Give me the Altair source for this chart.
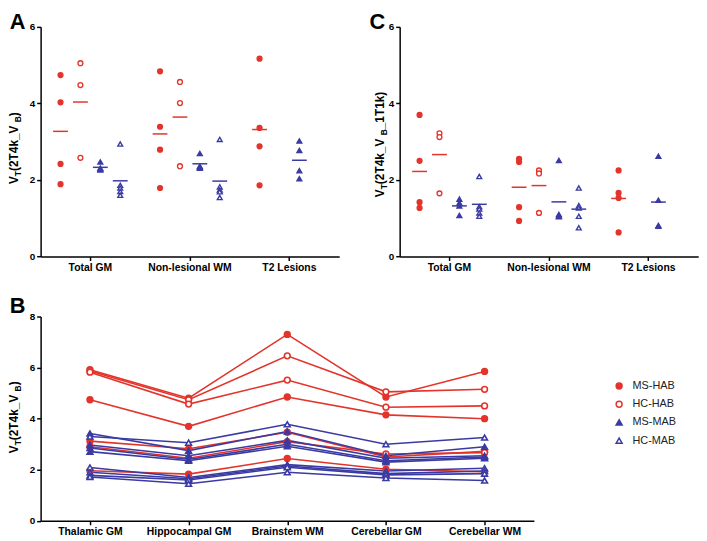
import altair as alt
import pandas as pd

FONT = "Liberation Sans"
RED = "#e3342b"
BLUE = "#3a3aa3"

groups = ["MS-HAB", "HC-HAB", "MS-MAB", "HC-MAB"]
regions_ac = ["Total GM", "Non-lesional WM", "T2 Lesions"]
b_regions = ["Thalamic GM", "Hippocampal GM", "Brainstem WM", "Cerebellar GM", "Cerebellar WM"]

# Panel A values  V_T (2T4k_V_B)
a_total_ms_hab = [4.74, 4.03, 2.42, 1.89]
a_total_hc_hab = [5.05, 4.48, 2.58]
a_total_ms_mab = [2.47, 2.31, 2.28, 2.26]
a_total_hc_mab = [2.94, 1.86, 1.79, 1.70, 1.60]
a_nlwm_ms_hab = [4.84, 3.39, 2.79, 1.79]
a_nlwm_hc_hab = [4.56, 4.01, 2.36]
a_nlwm_ms_mab = [2.69, 2.36, 2.33, 2.31]
a_nlwm_hc_mab = [3.06, 1.82, 1.74, 1.69, 1.54]
a_t2_ms_hab = [5.17, 3.36, 2.88, 1.86]
a_t2_ms_mab = [3.02, 2.77, 2.24, 2.03]

# Panel C values  V_T (2T4k_V_B_1T1k)
c_total_ms_hab = [3.70, 2.50, 1.42, 1.27]
c_total_hc_hab = [3.22, 3.12, 1.65]
c_total_ms_mab = [1.50, 1.40, 1.32, 1.07]
c_total_hc_mab = [2.09, 1.30, 1.24, 1.14, 1.05]
c_nlwm_ms_hab = [2.55, 2.47, 1.29, 0.93]
c_nlwm_hc_hab = [2.25, 2.17, 1.14]
c_nlwm_ms_mab = [2.51, 1.10, 1.06, 1.04]
c_nlwm_hc_mab = [1.79, 1.33, 1.27, 1.05, 0.75]
c_t2_ms_hab = [2.25, 1.66, 1.53, 0.63]
c_t2_ms_mab = [2.62, 1.47, 0.81, 0.79]

# Panel B: one list per subject, values across b_regions
b_ms_hab = [
    [5.92, 4.80, 7.30, 4.85, 5.85],
    [4.74, 3.70, 4.85, 4.15, 4.00],
    [3.12, 2.82, 3.47, 2.50, 2.72],
    [1.96, 1.83, 2.44, 2.02, 1.92],
]
b_hc_hab = [
    [5.87, 4.74, 6.46, 5.05, 5.15],
    [5.82, 4.57, 5.51, 4.45, 4.50],
    [2.90, 2.45, 3.10, 2.62, 2.67],
]
b_ms_mab = [
    [3.42, 2.75, 3.50, 2.55, 2.90],
    [2.97, 2.55, 3.15, 2.45, 2.55],
    [2.85, 2.40, 3.00, 2.35, 2.50],
    [2.71, 2.35, 2.92, 2.30, 2.45],
]
b_hc_mab = [
    [3.30, 3.06, 3.78, 3.00, 3.26],
    [2.09, 1.70, 2.20, 1.95, 2.06],
    [1.90, 1.65, 2.15, 1.85, 1.95],
    [1.78, 1.60, 2.10, 1.80, 1.85],
    [1.72, 1.45, 1.90, 1.68, 1.58],
]


def dot_rows(table):
    rows = []
    for (region, group), vals in table.items():
        for v in vals:
            rows.append({"region": region, "group": group, "value": v})
    return pd.DataFrame(rows)


df_a = dot_rows({
    ("Total GM", "MS-HAB"): a_total_ms_hab, ("Total GM", "HC-HAB"): a_total_hc_hab,
    ("Total GM", "MS-MAB"): a_total_ms_mab, ("Total GM", "HC-MAB"): a_total_hc_mab,
    ("Non-lesional WM", "MS-HAB"): a_nlwm_ms_hab, ("Non-lesional WM", "HC-HAB"): a_nlwm_hc_hab,
    ("Non-lesional WM", "MS-MAB"): a_nlwm_ms_mab, ("Non-lesional WM", "HC-MAB"): a_nlwm_hc_mab,
    ("T2 Lesions", "MS-HAB"): a_t2_ms_hab, ("T2 Lesions", "MS-MAB"): a_t2_ms_mab,
})
df_c = dot_rows({
    ("Total GM", "MS-HAB"): c_total_ms_hab, ("Total GM", "HC-HAB"): c_total_hc_hab,
    ("Total GM", "MS-MAB"): c_total_ms_mab, ("Total GM", "HC-MAB"): c_total_hc_mab,
    ("Non-lesional WM", "MS-HAB"): c_nlwm_ms_hab, ("Non-lesional WM", "HC-HAB"): c_nlwm_hc_hab,
    ("Non-lesional WM", "MS-MAB"): c_nlwm_ms_mab, ("Non-lesional WM", "HC-MAB"): c_nlwm_hc_mab,
    ("T2 Lesions", "MS-HAB"): c_t2_ms_hab, ("T2 Lesions", "MS-MAB"): c_t2_ms_mab,
})

b_rows = []
sid = 0
for group, subjects in [("MS-HAB", b_ms_hab), ("HC-HAB", b_hc_hab), ("MS-MAB", b_ms_mab), ("HC-MAB", b_hc_mab)]:
    for vals in subjects:
        sid += 1
        for region, v in zip(b_regions, vals):
            b_rows.append({"subject": f"s{sid}", "group": group, "binding": group[-3:], "region": region, "value": v})
df_b = pd.DataFrame(b_rows)

one = pd.DataFrame({"k": [0]})

# ---------- styling helpers ----------
AX = dict(domainColor="black", domainWidth=1.5, tickColor="black", tickWidth=1.5, tickSize=4,
          labelFont=FONT, labelFontWeight="bold", labelColor="black", grid=False, title=None)

shape_scale = alt.Scale(domain=groups, range=["circle", "circle", "triangle-up", "triangle-up"])
fill_scale = alt.Scale(domain=groups, range=[RED, "white", BLUE, "white"])
stroke_scale = alt.Scale(domain=groups, range=[RED, RED, BLUE, BLUE])

W = {' ': 278, '(': 333, ')': 333, '_': 556, 'T': 611, 'V': 667, 'B': 722, 'k': 556}
for d in "0123456789":
    W[d] = 556


def tw(s, f):
    return sum(W[c] for c in s) * f / 1000.0


def title_layers(pieces, xb, ystart, F=12, Fs=8.5, sub=3):
    layers = []
    y = ystart
    for txt, is_sub in pieces:
        f = Fs if is_sub else F
        layers.append(
            alt.Chart(one).mark_text(text=txt, angle=270, align="left", baseline="alphabetic",
                                     font=FONT, fontWeight="bold", fontSize=f, color="black")
            .encode(x=alt.value(xb + (sub if is_sub else 0)), y=alt.value(y))
        )
        y -= tw(txt, f)
    return layers


def letter(txt, x, y):
    return alt.Chart(one).mark_text(text=txt, align="left", baseline="top", font=FONT,
                                    fontWeight="bold", fontSize=22, color="black").encode(
        x=alt.value(x), y=alt.value(y))


PW = 302
PH = 232.3


def dot_panel(df, pieces, tx, ty, ltxt, lx):
    base = alt.Chart(df)
    x = alt.X("region:N", scale=alt.Scale(domain=regions_ac, paddingInner=0, paddingOuter=0),
              axis=alt.Axis(labelAngle=0, labelFontSize=10.5, labelPadding=2, **AX))
    xo = alt.XOffset("group:N", scale=alt.Scale(type="point", domain=groups, padding=1.95))
    y = alt.Y("value:Q", scale=alt.Scale(domain=[0, 6], nice=False),
              axis=alt.Axis(values=[0, 1, 2, 3, 4, 5, 6], labelFontSize=10, labelPadding=2, **AX))
    pts = base.mark_point(filled=True, size=24, strokeWidth=1.4, opacity=1).encode(
        x=x, xOffset=xo, y=y,
        fill=alt.Fill("group:N", scale=fill_scale, legend=None),
        stroke=alt.Stroke("group:N", scale=stroke_scale, legend=None),
        shape=alt.Shape("group:N", scale=shape_scale, legend=None),
    )
    means = base.mark_tick(size=15, thickness=1.5, opacity=1).encode(
        x=x, xOffset=xo, y=alt.Y("mean(value):Q"),
        color=alt.Color("group:N", scale=stroke_scale, legend=None),
    )
    layers = [pts, means] + title_layers(pieces, tx, ty) + [letter(ltxt, lx, -14.7)]
    return alt.layer(*layers).properties(width=PW, height=PH)


A = dot_panel(df_a, [("V", False), ("T", True), (" (2T4k_V", False), ("B", True), (")", False)],
              -22.4, 159.0, "A", -31.3)
C = dot_panel(df_c, [("V", False), ("T", True), (" (2T4k_V", False), ("B", True), ("_1T1k)", False)],
              -15.6, 172.3, "C", -30.5)

# ---------- panel B ----------
bx = alt.X("region:N", scale=alt.Scale(type="point", domain=b_regions, padding=0.5),
           axis=alt.Axis(labelAngle=0, labelFontSize=10.5, labelPadding=2, **AX))
by = alt.Y("value:Q", scale=alt.Scale(domain=[0, 8], nice=False),
           axis=alt.Axis(values=[0, 2, 4, 6, 8], labelFontSize=10, labelPadding=2, **AX))
bbase = alt.Chart(df_b)
blines = bbase.mark_line(strokeWidth=1.6, opacity=1).encode(
    x=bx, y=by, detail="subject:N",
    color=alt.Color("binding:N", scale=alt.Scale(domain=["HAB", "MAB"], range=[RED, BLUE]), legend=None),
)
leg = alt.Legend(title=None, orient="none", legendX=579.7, legendY=64.8, labelFont=FONT,
                 labelFontSize=11, labelColor="#222", symbolSize=36, symbolStrokeWidth=1.5,
                 labelOffset=8, rowPadding=5.4, padding=0)
bpts = bbase.mark_point(filled=True, size=34, strokeWidth=1.6, opacity=1).encode(
    x=bx, y=by,
    fill=alt.Fill("group:N", scale=fill_scale, legend=leg),
    stroke=alt.Stroke("group:N", scale=stroke_scale, legend=leg),
    shape=alt.Shape("group:N", scale=shape_scale, legend=leg),
)
B = alt.layer(*([blines, bpts]
                + title_layers([("V", False), ("T", True), (" (2T4k_V", False), ("B", True), (")", False)],
                               -22.4, 138.3)
                + [letter("B", -31.3, -20.3)])).properties(width=499, height=206.7)

RES = dict(fill="independent", stroke="independent", shape="independent", color="independent")
top = alt.hconcat(A, C, spacing=61.2, bounds="flush").resolve_scale(**RES)
chart = (
    alt.vconcat(top, B, spacing=22)
    .resolve_scale(**RES)
    .properties(padding=0)
    .configure_view(stroke=None)
)
chart.save("out.html", embed_options={"renderer": "svg", "actions": False})
